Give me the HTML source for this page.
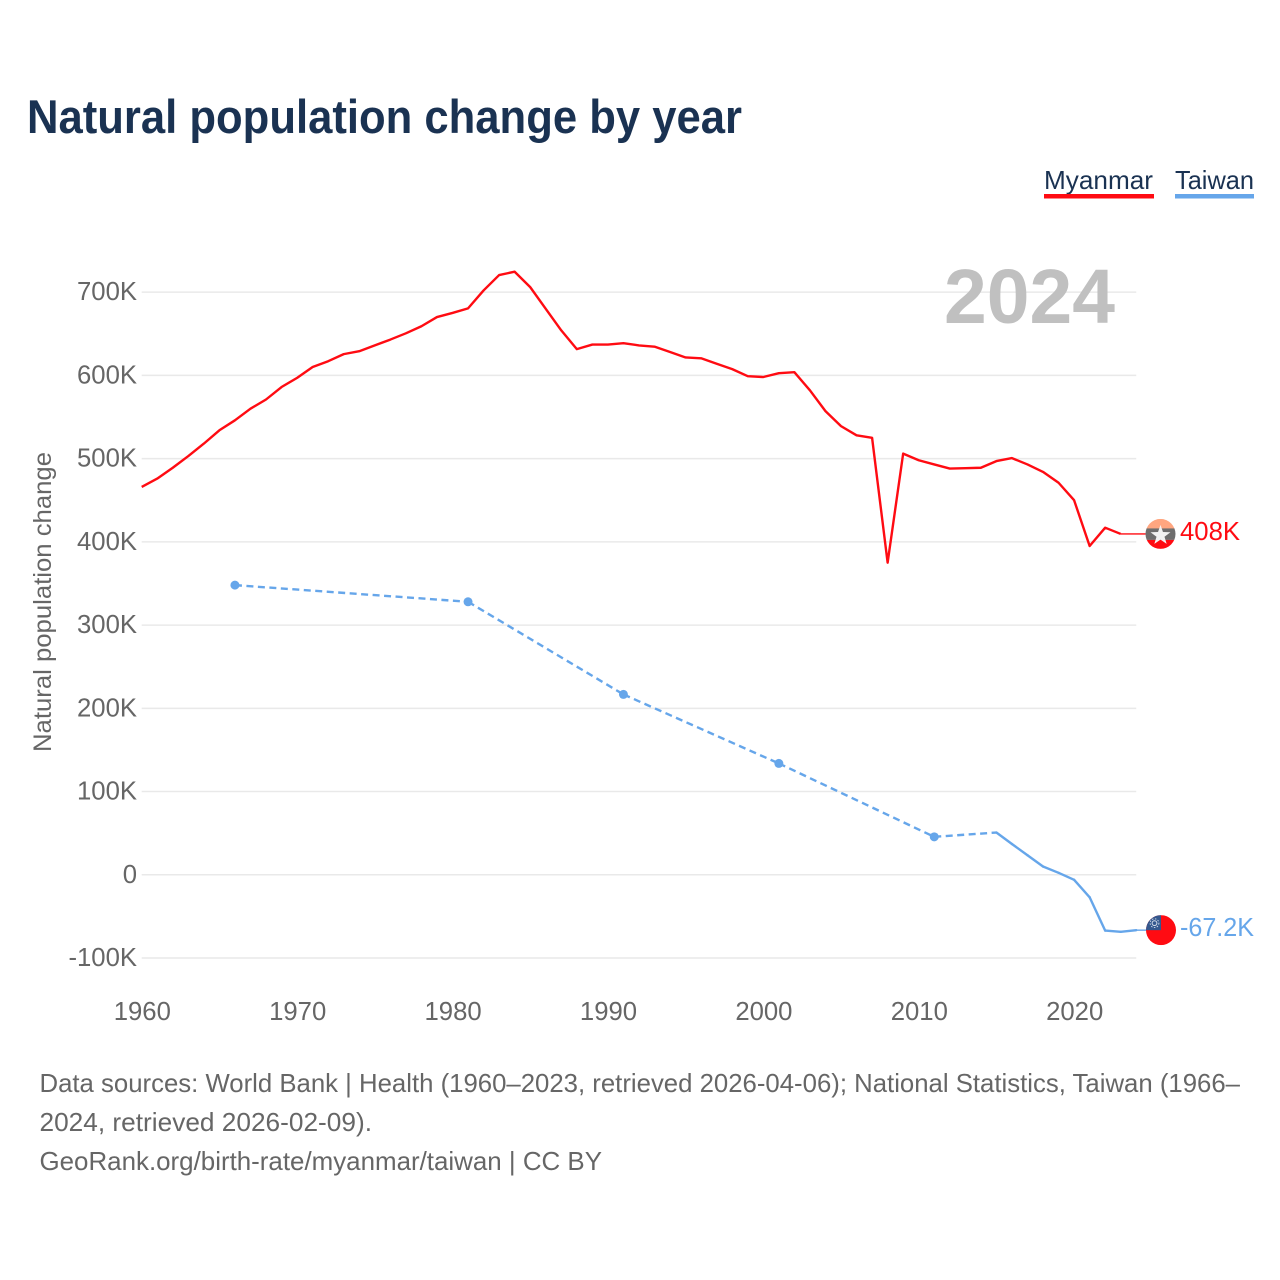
<!DOCTYPE html>
<html lang="en">
<head>
<meta charset="utf-8">
<title>Natural population change by year</title>
<style>
html,body{margin:0;padding:0;background:#fff;}
svg{display:block;font-family:"Liberation Sans",sans-serif;}
</style>
</head>
<body>
<svg id="chart" xmlns="http://www.w3.org/2000/svg" width="1280" height="1280" viewBox="0 0 1280 1280">
  <rect width="1280" height="1280" fill="#fff"/>
  <text x="27" y="133" font-size="47" font-weight="700" fill="#1a3252" textLength="715" lengthAdjust="spacingAndGlyphs">Natural population change by year</text>

  <g>
    <g>
      <text x="1044" y="189" font-size="26" fill="#1a3252" textLength="109" lengthAdjust="spacingAndGlyphs">Myanmar</text>
      <rect x="1044" y="194" width="110" height="4.5" fill="#ff0b12"/>
    </g>
    <g>
      <text x="1175" y="189" font-size="26" fill="#1a3252" textLength="79" lengthAdjust="spacingAndGlyphs">Taiwan</text>
      <rect x="1175" y="194" width="79" height="4.5" fill="#66a6ea"/>
    </g>
  </g>

  <g id="grid"></g>
  <g id="yticks"></g>
  <g id="xticks"></g>
  <text transform="translate(51,752) rotate(-90)" font-size="25" fill="#666" textLength="300" lengthAdjust="spacingAndGlyphs">Natural population change</text>
  <text x="944" y="323" font-size="77" font-weight="700" fill="#c0c0c0" textLength="171" lengthAdjust="spacingAndGlyphs">2024</text>

  <g id="series"></g>

  <g id="myanmar-marker"></g>
  <g id="taiwan-marker"></g>

  <g font-size="26" fill="#666">
    <text x="39.5" y="1092" textLength="1200.5" lengthAdjust="spacingAndGlyphs">Data sources: World Bank | Health (1960–2023, retrieved 2026-04-06); National Statistics, Taiwan (1966–</text>
    <text x="39.5" y="1131" textLength="332.5" lengthAdjust="spacingAndGlyphs">2024, retrieved 2026-02-09).</text>
    <text x="39.5" y="1170" textLength="562.5" lengthAdjust="spacingAndGlyphs">GeoRank.org/birth-rate/myanmar/taiwan | CC BY</text>
  </g>
</svg>
<script>
const yTickValues = [-100, 0, 100, 200, 300, 400, 500, 600, 700];
const yTickLabels = ['-100K', '0', '100K', '200K', '300K', '400K', '500K', '600K', '700K'];
const xTickValues = [1960, 1970, 1980, 1990, 2000, 2010, 2020];
const xTickLabels = ['1960', '1970', '1980', '1990', '2000', '2010', '2020'];

const myanmarYears = [1960,1961,1962,1963,1964,1965,1966,1967,1968,1969,1970,1971,1972,1973,1974,1975,1976,1977,1978,1979,1980,1981,1982,1983,1984,1985,1986,1987,1988,1989,1990,1991,1992,1993,1994,1995,1996,1997,1998,1999,2000,2001,2002,2003,2004,2005,2006,2007,2008,2009,2010,2011,2012,2013,2014,2015,2016,2017,2018,2019,2020,2021,2022,2023];
const myanmarValues = [466,476,489,503,518,534,546,560,571,586,597,610,617,625.5,629,636,643,650.5,659,670,675,680.5,702,720.5,724.5,706,680,654,631.5,637,637,638.6,636,634.5,628,621.5,620.5,614,607.5,599,598,602.6,603.8,582,557,539,528,525,375,506,498,493,488,488.5,489,497,500.6,493,484,471,450,395,417,409.5];

const taiwanYears = [1966,1981,1991,2001,2011,2015,2016,2017,2018,2019,2020,2021,2022,2023,2024];
const taiwanValues = [348,328,216.7,133.8,45.6,50.8,37,23.5,10,2.4,-6,-27,-67,-68.5,-66.5];

const latestYear = 2024;
const endLabels = ['408K', '-67.2K'];

const NS = 'http://www.w3.org/2000/svg';
const RED = '#ff0b12';
const BLUE = '#66a6ea';

function xScale(year) { return 141.7 + (year - 1960) * 15.54; }
function yScale(value) { return 874.8 - value * 0.8324; }

function make(tag, attrs, parent, text) {
  const el = document.createElementNS(NS, tag);
  for (const k in attrs) el.setAttribute(k, attrs[k]);
  if (text !== undefined) el.textContent = text;
  parent.appendChild(el);
  return el;
}

const gridG = document.getElementById('grid');
const yG = document.getElementById('yticks');
const xG = document.getElementById('xticks');
const seriesG = document.getElementById('series');

yTickValues.forEach(function (v, i) {
  const line = make('line', { x1: xScale(1960), x2: xScale(latestYear), y1: yScale(v), y2: yScale(v), stroke: '#e9e9e9', 'stroke-width': 1.5 }, gridG);
  
  
  const t = make('text', { x: 137, y: yScale(v) + 8, 'text-anchor': 'end', 'font-size': 25.7, fill: '#666' }, yG, yTickLabels[i]);
  
  
});

xTickValues.forEach(function (v, i) {
  const t = make('text', { x: xScale(v) + 0.6, y: 1020, 'text-anchor': 'middle', 'font-size': 25.7, fill: '#666' }, xG, xTickLabels[i]);
  
  
});

function pathFrom(years, values) {
  return years.map(function (y, i) {
    return (i ? 'L' : 'M') + xScale(y).toFixed(2) + ' ' + yScale(values[i]).toFixed(2);
  }).join(' ');
}

/* Myanmar line */
const myanmarLine = make('path', { d: pathFrom(myanmarYears, myanmarValues), fill: 'none', stroke: RED, 'stroke-width': 2.4, 'stroke-linejoin': 'round' }, seriesG);



/* Taiwan line: consecutive years are solid, gaps are dashed, survey points before the gaps get dots */
for (let i = 1; i < taiwanYears.length; i++) {
  const gap = taiwanYears[i] - taiwanYears[i - 1] > 1;
  const seg = make('line', {
    x1: xScale(taiwanYears[i - 1]), y1: yScale(taiwanValues[i - 1]),
    x2: xScale(taiwanYears[i]), y2: yScale(taiwanValues[i]),
    stroke: BLUE, 'stroke-width': 2.4, 'stroke-linecap': gap ? 'butt' : 'round',
    'stroke-dasharray': gap ? '7 4.5' : 'none'
  }, seriesG);
  
  
}
taiwanYears.forEach(function (y, i) {
  const prevGap = i === 0 || y - taiwanYears[i - 1] > 1;
  const nextGap = i < taiwanYears.length - 1 && taiwanYears[i + 1] - y > 1;
  if (prevGap && nextGap) {
    const dot = make('circle', { cx: xScale(y), cy: yScale(taiwanValues[i]), r: 4.5, fill: BLUE }, seriesG);
    
    
  }
});

/* End markers */
const mLastY = yScale(myanmarValues[myanmarValues.length - 1]);
const mLastX = xScale(myanmarYears[myanmarYears.length - 1]);
const mCx = 1160.5;
const mG = document.getElementById('myanmar-marker');

const mConn = make('line', { x1: mLastX, y1: mLastY, x2: mCx - 15, y2: mLastY, stroke: RED, 'stroke-width': 1.4 }, mG);



const mClip = make('clipPath', { id: 'mc' }, mG);
make('circle', { cx: mCx, cy: mLastY, r: 15 }, mClip);
const mFlag = make('g', { 'clip-path': 'url(#mc)' }, mG);


make('rect', { x: mCx - 15, y: mLastY - 15, width: 30, height: 10, fill: '#ffa680' }, mFlag);
make('rect', { x: mCx - 15, y: mLastY - 5.5, width: 30, height: 11.5, fill: '#6e6e6e' }, mFlag);
make('rect', { x: mCx - 15, y: mLastY + 6, width: 30, height: 9, fill: RED }, mFlag);
const starPts = [];
for (let k = 0; k < 10; k++) {
  const rad = k % 2 ? 4.2 : 10.5;
  const ang = -Math.PI / 2 + k * Math.PI / 5;
  starPts.push((mCx + rad * Math.cos(ang)).toFixed(2) + ',' + (mLastY + 1.5 + rad * Math.sin(ang)).toFixed(2));
}
make('polygon', { points: starPts.join(' '), fill: '#f2f2f2' }, mFlag);

const mLabel = make('text', { x: 1180, y: mLastY + 6, 'font-size': 25.7, fill: RED }, mG, endLabels[0]);



const tLastY = yScale(taiwanValues[taiwanValues.length - 1]);
const tLastX = xScale(taiwanYears[taiwanYears.length - 1]);
const tCx = 1161;
const tG = document.getElementById('taiwan-marker');

const tConn = make('line', { x1: tLastX, y1: tLastY, x2: tCx - 15, y2: tLastY, stroke: BLUE, 'stroke-width': 1.4 }, tG);



const tClip = make('clipPath', { id: 'tc' }, tG);
make('circle', { cx: tCx, cy: tLastY, r: 15 }, tClip);
const tFlag = make('g', { 'clip-path': 'url(#tc)' }, tG);


make('rect', { x: tCx - 15, y: tLastY - 15, width: 30, height: 30, fill: RED }, tFlag);
make('rect', { x: tCx - 15, y: tLastY - 15, width: 15, height: 15, fill: '#34588e' }, tFlag);
make('circle', { cx: tCx - 6.5, cy: tLastY - 7, r: 2.4, fill: '#34588e', stroke: '#d5deeb', 'stroke-width': 1 }, tFlag);
make('circle', { cx: tCx - 6.5, cy: tLastY - 7, r: 4.4, fill: 'none', stroke: '#d5deeb', 'stroke-width': 0.9, 'stroke-dasharray': '1.5 1.5' }, tFlag);

const tLabel = make('text', { x: 1180, y: tLastY + 6, 'font-size': 25.7, fill: BLUE, textLength: 74, lengthAdjust: 'spacingAndGlyphs' }, tG, endLabels[1]);


</script>
</body>
</html>
